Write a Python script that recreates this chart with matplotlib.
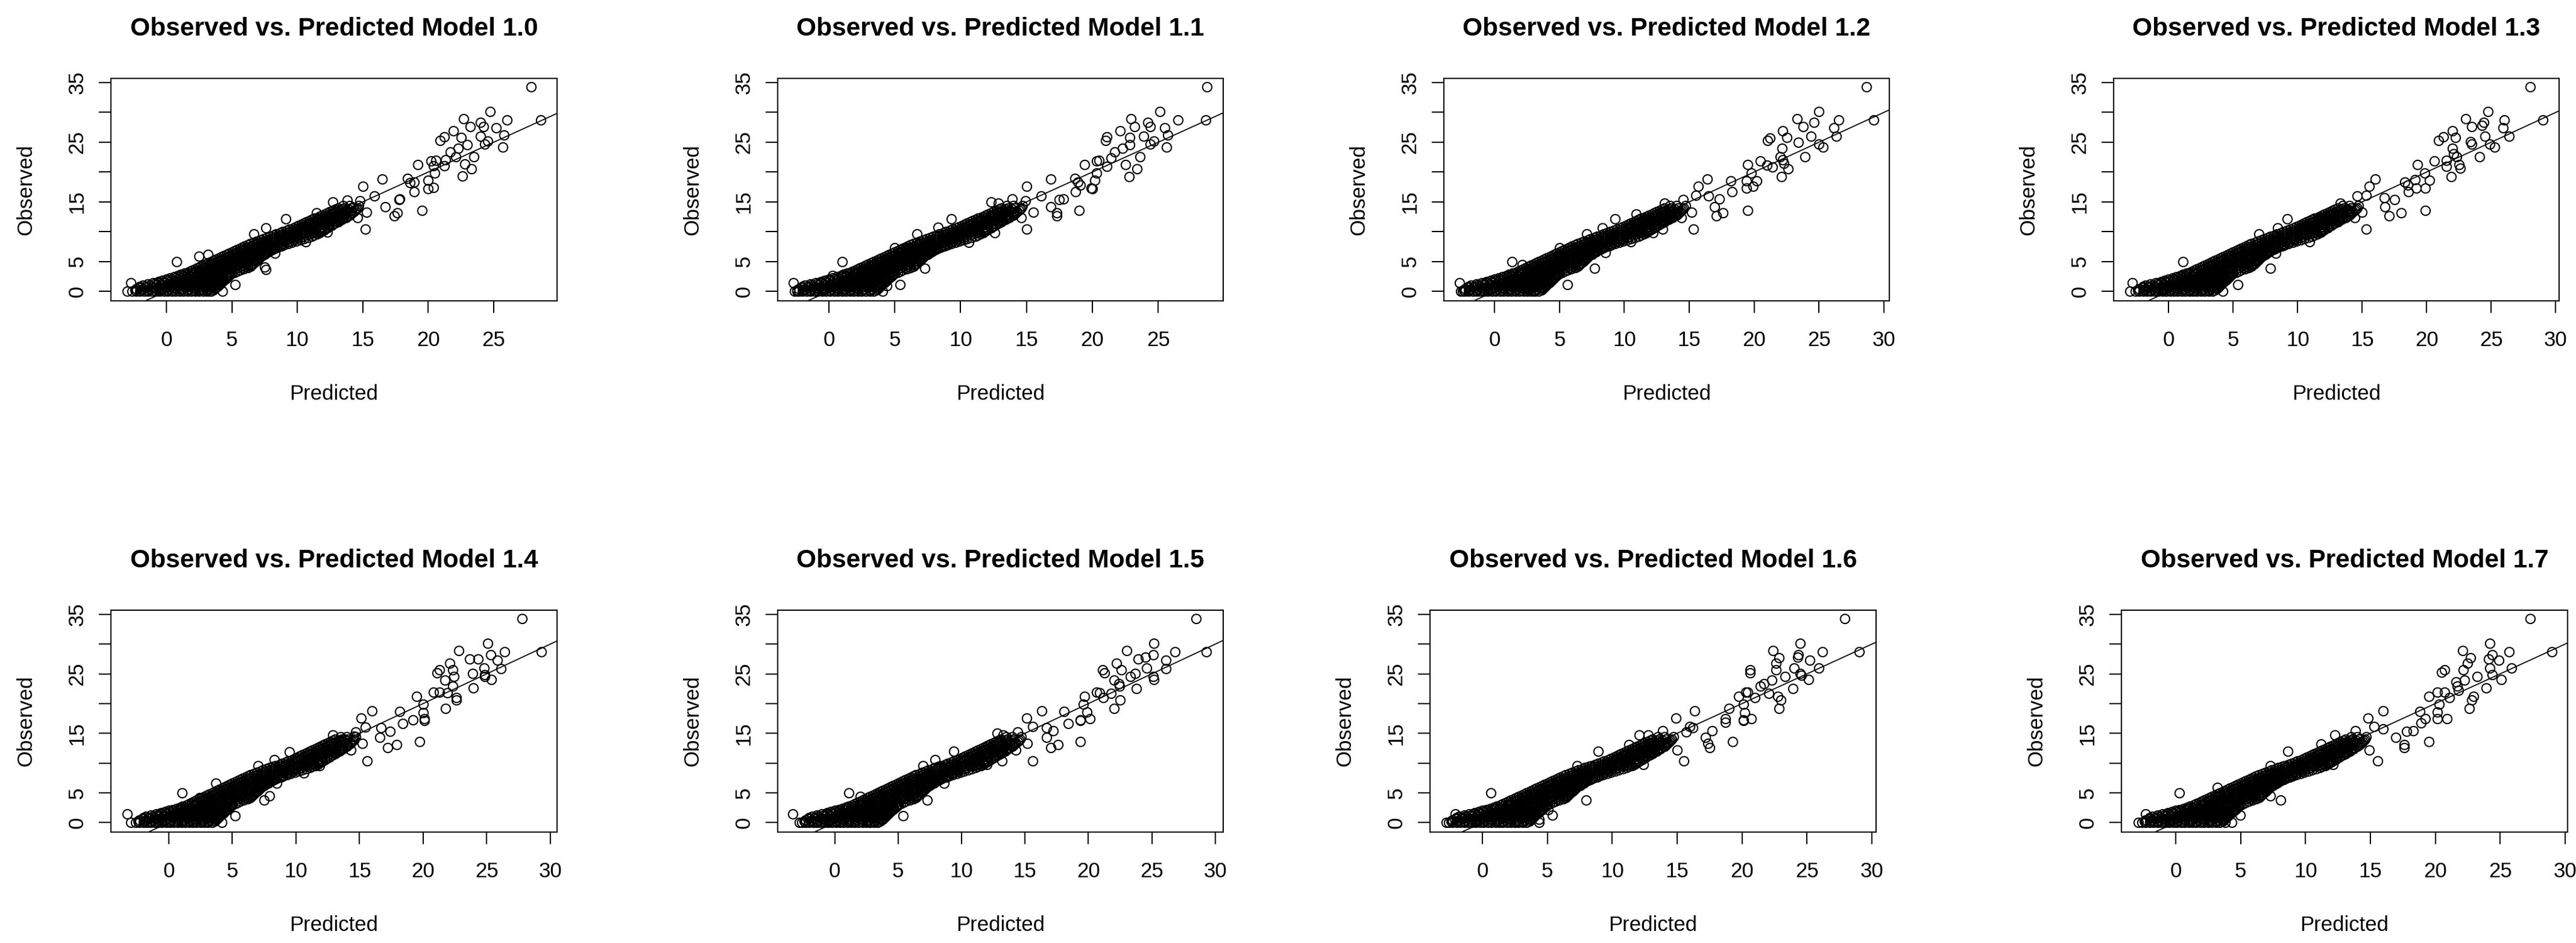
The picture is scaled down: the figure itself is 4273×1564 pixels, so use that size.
import matplotlib
matplotlib.use("Agg")
import matplotlib.pyplot as plt

plt.rcParams['font.family'] = ['Liberation Sans', 'DejaVu Sans']

W, H, DPI = 4273, 1564, 100

# dense band shared by all models: (observed level, predicted values)
band_rows = [
    (0.0, [-2.6, -2.3, -2.0, -1.7, -1.4, -1.1, -0.8, -0.5, -0.2, 0.1, 0.4, 0.7, 1.0, 1.3, 1.6, 1.9, 2.2, 2.5, 2.8, 3.1, 3.4]),
    (0.2, [-2.4, -1.9, -1.4, -0.9, -0.4, 0.1, 0.6, 1.1, 1.6, 2.1, 2.6, 3.1, 3.6]),
    (0.4, [-2.3, -1.8, -1.3, -0.8, -0.3, 0.2, 0.7, 1.2, 1.7, 2.2, 2.7, 3.2, 3.7]),
    (0.6, [-2.0, -1.5, -1.0, -0.5, 0.0, 0.5, 1.0, 1.5, 2.0, 2.5, 3.0, 3.5, 3.8]),
    (0.8, [-2.0, -1.6, -1.1, -0.6, -0.1, 0.4, 0.9, 1.4, 1.9, 2.4, 2.9, 3.4, 3.9]),
    (1.0, [-1.8, -1.3, -0.8, -0.3, 0.2, 0.7, 1.2, 1.7, 2.2, 2.7, 3.2, 3.7, 4.0]),
    (1.2, [-1.4, -0.9, -0.4, 0.1, 0.6, 1.1, 1.6, 2.1, 2.6, 3.1, 3.6, 4.1]),
    (1.4, [-1.0, -0.6, -0.1, 0.4, 0.9, 1.4, 1.9, 2.4, 2.9, 3.4, 3.9, 4.2]),
    (1.6, [-0.6, -0.2, 0.3, 0.8, 1.3, 1.8, 2.3, 2.8, 3.3, 3.8, 4.3]),
    (1.8, [-0.3, 0.1, 0.6, 1.1, 1.6, 2.1, 2.6, 3.1, 3.6, 4.1, 4.4]),
    (2.0, [0.0, 0.4, 0.9, 1.4, 1.9, 2.4, 2.9, 3.4, 3.9, 4.5]),
    (2.2, [0.3, 0.7, 1.2, 1.7, 2.2, 2.7, 3.2, 3.7, 4.2, 4.6]),
    (2.4, [0.6, 1.0, 1.5, 2.0, 2.5, 3.0, 3.5, 4.0, 4.7]),
    (2.6, [0.9, 1.3, 1.8, 2.3, 2.8, 3.3, 3.8, 4.3, 4.8]),
    (2.8, [1.1, 1.6, 2.1, 2.6, 3.1, 3.6, 4.1, 4.6, 4.9]),
    (3.0, [1.4, 1.9, 2.4, 2.9, 3.4, 3.9, 4.4, 5.0]),
    (3.2, [1.6, 2.1, 2.6, 3.1, 3.6, 4.1, 4.6, 5.2]),
    (3.4, [1.8, 2.3, 2.8, 3.3, 3.8, 4.3, 4.8, 5.4]),
    (3.6, [2.0, 2.5, 3.0, 3.5, 4.0, 4.5, 5.0, 5.6]),
    (3.8, [2.2, 2.7, 3.2, 3.7, 4.2, 4.7, 5.2, 5.9]),
    (4.0, [2.4, 2.9, 3.4, 3.9, 4.4, 4.9, 5.4, 5.8, 6.2]),
    (4.2, [2.6, 3.1, 3.6, 4.1, 4.6, 5.1, 5.6, 6.0, 6.4]),
    (4.4, [2.8, 3.3, 3.8, 4.3, 4.8, 5.3, 5.8, 6.2, 6.5]),
    (4.6, [3.0, 3.5, 4.0, 4.5, 5.0, 5.5, 6.0, 6.6]),
    (4.8, [3.2, 3.7, 4.2, 4.7, 5.2, 5.7, 6.2, 6.7]),
    (5.0, [3.4, 3.9, 4.4, 4.9, 5.4, 5.9, 6.4, 6.8]),
    (5.2, [3.6, 4.1, 4.6, 5.1, 5.6, 6.1, 6.6, 6.9]),
    (5.4, [3.8, 4.3, 4.8, 5.3, 5.8, 6.3, 6.8, 7.0]),
    (5.6, [4.0, 4.5, 5.0, 5.5, 6.0, 6.5, 7.1]),
    (5.8, [4.2, 4.7, 5.2, 5.7, 6.2, 6.7, 7.2]),
    (6.0, [4.4, 4.9, 5.4, 5.9, 6.4, 6.9, 7.3]),
    (6.2, [4.6, 5.1, 5.6, 6.1, 6.6, 7.1, 7.5]),
    (6.4, [4.8, 5.3, 5.8, 6.3, 6.8, 7.3, 7.6]),
    (6.6, [5.0, 5.5, 6.0, 6.5, 7.0, 7.5, 7.8]),
    (6.8, [5.2, 5.7, 6.2, 6.7, 7.2, 7.7, 7.9]),
    (7.0, [5.4, 5.9, 6.4, 6.9, 7.4, 7.9, 8.1]),
    (7.2, [5.6, 6.1, 6.6, 7.1, 7.6, 8.1, 8.3]),
    (7.4, [5.8, 6.3, 6.8, 7.3, 7.8, 8.3, 8.5]),
    (7.6, [6.0, 6.5, 7.0, 7.5, 8.0, 8.5, 8.8]),
    (7.8, [6.2, 6.7, 7.2, 7.7, 8.2, 8.7, 9.0]),
    (8.0, [6.4, 6.9, 7.4, 7.9, 8.4, 8.9, 9.3]),
    (8.2, [6.7, 7.2, 7.7, 8.2, 8.7, 9.2, 9.6]),
    (8.4, [6.9, 7.4, 7.9, 8.4, 8.9, 9.4, 9.9]),
    (8.6, [7.2, 7.7, 8.2, 8.7, 9.2, 9.7, 10.2]),
    (8.8, [7.4, 7.9, 8.4, 8.9, 9.4, 9.9, 10.5]),
    (9.0, [7.7, 8.2, 8.7, 9.2, 9.7, 10.2, 10.8]),
    (9.2, [7.9, 8.4, 8.9, 9.4, 9.9, 10.4, 11.1]),
    (9.4, [8.2, 8.7, 9.2, 9.7, 10.2, 10.7, 11.3]),
    (9.6, [8.4, 8.9, 9.4, 9.9, 10.4, 10.9, 11.5]),
    (9.8, [8.7, 9.2, 9.7, 10.2, 10.7, 11.2, 11.7]),
    (10.0, [8.9, 9.4, 9.9, 10.4, 10.9, 11.4, 11.8]),
    (10.2, [9.2, 9.7, 10.2, 10.7, 11.2, 11.7, 12.0]),
    (10.4, [9.4, 9.9, 10.4, 10.9, 11.4, 11.9, 12.1]),
    (10.6, [9.7, 10.2, 10.7, 11.2, 11.7, 12.3]),
    (10.8, [9.9, 10.4, 10.9, 11.4, 11.9, 12.4]),
    (11.0, [10.1, 10.6, 11.1, 11.6, 12.1, 12.6]),
    (11.2, [10.3, 10.8, 11.3, 11.8, 12.3, 12.7]),
    (11.4, [10.5, 11.0, 11.5, 12.0, 12.5, 12.9]),
    (11.6, [10.7, 11.2, 11.7, 12.2, 12.7, 13.1]),
    (11.8, [10.9, 11.4, 11.9, 12.4, 12.9, 13.2]),
    (12.0, [11.1, 11.6, 12.1, 12.6, 13.1, 13.4]),
    (12.2, [11.3, 11.8, 12.3, 12.8, 13.3, 13.5]),
    (12.4, [11.5, 12.0, 12.5, 13.0, 13.5, 13.7]),
    (12.6, [11.7, 12.2, 12.7, 13.2, 13.7]),
    (12.8, [11.9, 12.4, 12.9, 13.4, 14.0]),
    (13.0, [12.1, 12.6, 13.1, 13.6, 14.1]),
    (13.2, [12.3, 12.8, 13.3, 13.8, 14.2]),
    (13.4, [12.5, 13.0, 13.5, 14.0, 14.3]),
    (13.6, [12.7, 13.2, 13.7, 14.4]),
    (13.8, [12.9, 13.4, 13.9, 14.5]),
    (14.0, [13.1, 13.6, 14.1, 14.6]),
    (14.4, [13.5, 14.0, 14.7]),
]

# scattered points per model: (predicted, observed)
pts_10 = [(27.86, 34.3), (28.6, 28.75), (24.7, 30.1), (22.7, 28.9), (24.0, 28.3), (26.0, 28.75), (23.2, 27.6),
          (24.2, 27.6), (25.2, 27.4), (21.9, 26.9), (21.2, 25.9), (20.9, 25.3), (22.5, 25.8), (24.0, 26.0),
          (25.8, 26.2), (22.96, 24.6), (22.3, 24.0), (24.55, 25.2), (25.7, 24.2), (24.3, 24.65), (21.7, 23.4),
          (23.5, 22.6), (22.1, 22.6), (21.3, 22.1), (20.6, 22.0), (20.2, 21.9), (19.2, 21.2), (22.8, 21.3),
          (20.4, 21.0), (21.2, 21.0), (23.3, 20.5), (20.5, 19.85), (22.6, 19.3), (18.4, 18.9), (18.9, 18.35),
          (18.6, 18.25), (20.0, 18.6), (20.4, 17.4), (20.0, 17.25), (18.9, 16.7), (16.5, 18.8), (15.0, 17.6),
          (15.9, 16.0), (16.7, 14.2), (17.8, 15.5), (17.75, 15.4), (17.65, 13.2), (17.4, 12.7), (19.5, 13.6),
          (15.3, 13.3), (14.6, 12.3), (15.2, 10.4), (14.8, 15.2), (13.8, 15.3), (14.25, 14.1), (12.7, 15.0),
          (12.3, 9.95), (11.45, 13.2), (10.65, 8.3), (9.1, 12.1), (7.6, 10.6), (6.7, 9.6), (7.5, 4.1),
          (7.6, 3.7), (5.25, 1.1), (0.8, 5.0), (-2.7, 1.46), (-3.0, 0.0), (8.3, 6.4), (2.5, 5.9), (3.2, 6.2),
          (4.3, 0.0), (3.3, 0.0)]
pts_11 = [(28.7, 34.3), (28.6, 28.75), (25.1, 30.1), (22.9, 28.9), (24.2, 28.3), (26.5, 28.75), (23.2, 27.6),
          (24.4, 27.6), (25.5, 27.4), (22.1, 26.9), (21.1, 25.9), (21.0, 25.3), (22.85, 25.8), (23.9, 26.0),
          (25.7, 26.2), (22.85, 24.6), (22.3, 24.0), (24.65, 25.2), (25.6, 24.2), (24.4, 24.65), (21.7, 23.4),
          (23.6, 22.6), (21.4, 22.4), (20.3, 21.9), (20.5, 22.0), (19.4, 21.2), (22.5, 21.2), (21.1, 20.9),
          (23.4, 20.5), (20.3, 19.85), (22.8, 19.2), (18.65, 18.9), (18.9, 18.35), (19.1, 17.8), (20.2, 18.6),
          (19.9, 17.35), (20.0, 17.2), (18.7, 16.7), (16.85, 18.8), (15.0, 17.6), (16.1, 16.0), (16.85, 14.2),
          (17.8, 15.5), (17.5, 15.4), (17.3, 13.2), (17.3, 12.7), (19.0, 13.6), (15.5, 13.3), (14.6, 12.3),
          (15.0, 10.4), (14.9, 15.2), (13.9, 15.5), (12.85, 14.8), (12.3, 15.0), (12.6, 9.8), (10.6, 8.2),
          (9.3, 12.1), (8.3, 10.7), (6.7, 9.6), (7.3, 3.9), (5.4, 1.1), (1.0, 5.0), (-2.7, 1.46), (-2.4, 0.0),
          (4.1, 0.0), (4.4, 0.9), (0.3, 2.6), (5.0, 7.3), (5.8, 7.3)]
pts_12 = [(28.65, 34.3), (29.2, 28.75), (25.0, 30.1), (23.3, 28.9), (23.8, 27.6), (24.6, 28.3), (26.5, 28.75),
          (26.15, 27.4), (22.2, 26.9), (22.5, 25.8), (21.2, 25.7), (21.05, 25.3), (24.4, 26.0), (26.35, 26.0),
          (23.4, 25.0), (25.0, 24.65), (25.3, 24.2), (22.15, 24.0), (22.0, 22.6), (23.9, 22.6), (22.2, 22.1),
          (20.5, 21.9), (19.5, 21.2), (21.0, 21.1), (21.4, 20.8), (22.3, 21.45), (22.6, 20.5), (19.8, 19.85),
          (22.1, 19.2), (18.2, 18.5), (19.4, 18.5), (20.2, 18.5), (18.3, 16.7), (19.4, 17.35), (19.9, 17.6),
          (16.4, 18.8), (15.7, 17.6), (15.5, 16.1), (16.5, 16.0), (17.3, 15.5), (16.95, 14.2), (17.1, 12.7),
          (17.6, 13.2), (19.5, 13.6), (15.2, 13.3), (14.4, 12.3), (15.3, 10.4), (14.55, 15.4), (13.1, 14.8),
          (13.6, 12.8), (12.95, 10.4), (12.2, 9.8), (10.9, 13.0), (9.3, 12.1), (8.3, 10.6), (7.1, 9.6),
          (7.7, 3.9), (8.55, 6.5), (5.6, 1.1), (1.35, 5.0), (-2.7, 1.46), (-2.45, 0.0), (3.0, 0.0), (5.0, 7.3),
          (2.15, 4.5), (10.5, 8.3)]
pts_13 = [(28.0, 34.3), (29.0, 28.75), (24.75, 30.1), (23.0, 28.9), (24.4, 28.3), (26.0, 28.75), (23.5, 27.6),
          (24.3, 27.8), (25.9, 27.4), (22.0, 26.9), (21.3, 25.9), (20.9, 25.3), (22.2, 25.8), (24.5, 26.0),
          (26.4, 26.0), (23.4, 25.1), (23.5, 24.65), (24.9, 24.7), (25.25, 24.2), (22.0, 24.0), (22.1, 23.05),
          (24.1, 22.6), (22.3, 22.6), (21.5, 22.0), (20.6, 21.9), (19.3, 21.2), (22.5, 21.2), (21.5, 20.9),
          (22.6, 20.6), (19.85, 19.85), (21.9, 19.2), (18.3, 18.35), (18.55, 17.8), (19.1, 18.7), (20.2, 18.6),
          (19.9, 17.35), (19.2, 17.35), (18.6, 16.7), (16.0, 18.8), (15.55, 17.6), (15.3, 16.1), (16.7, 15.7),
          (17.5, 15.4), (16.75, 14.2), (17.1, 12.7), (18.0, 13.2), (19.9, 13.6), (15.0, 13.3), (14.4, 12.3),
          (15.3, 10.4), (14.6, 16.0), (13.3, 14.8), (13.8, 13.7), (11.9, 12.3), (11.8, 9.95), (10.9, 8.3),
          (9.2, 12.1), (8.45, 10.6), (7.0, 9.6), (7.9, 3.9), (5.35, 1.1), (1.1, 5.0), (-2.8, 1.46), (-3.0, 0.0),
          (4.2, 0.0), (8.3, 6.4)]
pts_14 = [(27.8, 34.3), (29.3, 28.7), (25.1, 30.1), (22.8, 28.9), (23.65, 27.5), (24.3, 27.5), (25.3, 28.2),
          (26.4, 28.7), (25.85, 27.3), (22.1, 26.8), (21.3, 25.7), (21.1, 25.2), (22.35, 25.7), (24.8, 26.0),
          (26.1, 25.9), (22.4, 24.5), (21.7, 23.9), (23.9, 25.1), (25.35, 24.0), (24.85, 24.5), (24.85, 24.9),
          (23.95, 22.6), (22.35, 22.9), (20.8, 21.9), (21.3, 21.9), (19.5, 21.25), (21.9, 21.8), (22.6, 21.0),
          (22.6, 20.55), (20.0, 19.85), (21.75, 19.15), (18.15, 18.7), (18.4, 16.6), (19.2, 17.3), (20.1, 17.5),
          (20.1, 17.15), (20.0, 18.45), (16.0, 18.8), (15.1, 17.6), (15.45, 16.0), (16.7, 15.9), (17.4, 15.3),
          (17.2, 12.6), (16.6, 14.3), (17.9, 13.1), (19.7, 13.6), (15.2, 13.3), (14.3, 12.2), (15.6, 10.4),
          (14.7, 15.2), (14.55, 14.5), (13.8, 14.0), (12.9, 14.7), (11.85, 9.6), (10.6, 8.3), (9.5, 11.9),
          (8.3, 10.6), (7.0, 9.5), (7.5, 3.8), (7.9, 4.5), (5.2, 1.1), (1.05, 4.95), (-3.25, 1.45), (-3.0, 0.0),
          (4.15, 0.0), (2.4, 4.2), (3.7, 6.6), (8.5, 6.6)]
pts_15 = [(28.5, 34.3), (29.3, 28.7), (25.15, 30.1), (23.0, 28.9), (23.9, 27.5), (24.5, 27.8), (25.1, 28.2),
          (26.8, 28.7), (26.1, 27.3), (22.2, 26.8), (21.1, 25.7), (21.25, 25.2), (22.6, 25.7), (24.6, 26.0),
          (26.1, 25.9), (23.3, 24.5), (22.0, 23.9), (23.7, 25.1), (25.15, 24.0), (25.1, 24.5), (22.4, 23.35),
          (23.8, 22.55), (22.45, 22.9), (20.65, 21.9), (20.9, 21.8), (19.7, 21.25), (21.8, 21.7), (21.15, 21.0),
          (22.5, 20.55), (19.6, 19.85), (22.0, 19.15), (18.1, 18.7), (18.4, 16.6), (19.35, 17.3), (19.9, 18.55),
          (20.1, 17.5), (19.35, 17.15), (16.3, 18.8), (15.15, 17.6), (15.6, 16.1), (16.7, 15.9), (17.2, 15.4),
          (17.05, 12.6), (16.7, 14.3), (17.6, 13.1), (19.35, 13.6), (15.2, 13.3), (14.3, 12.2), (15.6, 10.4),
          (14.4, 15.2), (13.3, 14.7), (12.8, 15.0), (13.2, 10.4), (12.0, 9.8), (9.4, 12.0), (7.9, 10.6),
          (6.95, 9.5), (7.3, 3.8), (8.6, 6.6), (5.4, 1.1), (1.1, 4.95), (-3.3, 1.45), (-2.8, 0.0), (3.8, 0.5),
          (2.8, 0.0), (2.0, 4.4)]
pts_16 = [(27.9, 34.3), (29.0, 28.7), (24.45, 30.1), (22.4, 28.9), (22.85, 27.7), (24.3, 27.8), (24.35, 28.2),
          (26.2, 28.7), (25.2, 27.3), (22.6, 26.8), (20.6, 25.7), (20.6, 25.2), (22.6, 25.7), (24.0, 26.0),
          (25.9, 26.0), (23.3, 24.5), (22.3, 23.9), (24.45, 25.1), (25.1, 24.0), (24.55, 24.75), (21.7, 23.35),
          (23.9, 22.55), (21.4, 22.9), (20.3, 21.9), (20.45, 21.9), (19.75, 21.25), (22.05, 21.7), (21.0, 21.0),
          (22.75, 21.25), (23.0, 20.55), (20.1, 19.85), (22.85, 19.15), (19.0, 19.15), (18.7, 17.5), (18.7, 16.8),
          (20.1, 17.3), (20.2, 18.45), (20.7, 17.5), (20.1, 17.15), (16.35, 18.8), (14.9, 17.6), (15.95, 16.1),
          (16.2, 15.9), (15.7, 15.2), (17.5, 12.6), (17.35, 13.3), (17.2, 14.3), (17.7, 15.4), (19.25, 13.6),
          (15.0, 12.2), (15.5, 10.4), (13.9, 15.4), (12.75, 14.7), (12.05, 14.7), (12.4, 9.8), (11.3, 13.1),
          (8.9, 12.0), (7.3, 9.5), (8.0, 3.8), (4.35, 0.05), (4.35, 0.5), (0.65, 4.95), (-2.1, 1.45), (-2.8, 0.0),
          (2.5, 0.0), (5.4, 1.2), (5.05, 2.15)]
pts_17 = [(27.3, 34.3), (29.0, 28.7), (24.2, 30.1), (22.1, 28.9), (22.7, 27.7), (24.1, 27.5), (24.4, 28.2),
          (25.7, 28.7), (24.9, 27.3), (22.5, 26.8), (20.5, 25.3), (20.7, 25.7), (22.15, 25.7), (24.2, 26.0),
          (25.85, 26.0), (23.2, 24.5), (22.25, 23.9), (24.4, 24.9), (25.1, 24.0), (23.9, 22.6), (21.6, 23.6),
          (21.7, 22.9), (20.15, 21.9), (20.7, 21.9), (19.5, 21.25), (21.8, 22.2), (21.1, 21.0), (22.95, 21.25),
          (22.8, 20.55), (20.3, 19.85), (22.6, 19.15), (18.8, 18.7), (19.25, 17.5), (18.9, 16.7), (20.15, 17.5),
          (20.9, 17.5), (20.15, 18.55), (16.0, 18.8), (14.8, 17.6), (15.3, 16.1), (16.0, 15.75), (16.95, 14.3),
          (17.6, 12.6), (17.6, 13.1), (17.8, 15.3), (18.3, 15.4), (19.5, 13.6), (14.9, 12.2), (15.55, 10.4),
          (13.85, 15.4), (12.25, 14.7), (12.1, 9.8), (11.2, 13.2), (8.65, 12.0), (7.3, 9.6), (8.1, 3.8),
          (7.3, 4.5), (4.3, 0.0), (3.8, 0.0), (0.3, 4.95), (-2.3, 1.45), (-2.9, 0.0), (3.2, 5.9), (4.95, 1.2)]

model_names = ["1.0", "1.1", "1.2", "1.3", "1.4", "1.5", "1.6", "1.7"]
model_pts = [pts_10, pts_11, pts_12, pts_13, pts_14, pts_15, pts_16, pts_17]
x_limits = [(-4.23, 29.83), (-3.88, 29.92), (-3.91, 30.42), (-4.27, 30.26),
            (-4.55, 30.53), (-4.49, 30.62), (-4.04, 30.32), (-4.18, 30.19)]
y_limits = (-1.6, 35.7)
x_ticks = [0, 5, 10, 15, 20, 25, 30]
y_ticks = [0, 5, 10, 15, 20, 25, 30, 35]
y_tick_labels = ["0", "5", "", "15", "", "25", "", "35"]

# plot boxes in pixels: left, top, right, bottom
boxes = [(184, 130, 924, 499), (1290, 130, 2029, 499), (2395, 130, 3134, 499), (3506, 130, 4245, 499),
         (184, 1012, 924, 1380), (1290, 1012, 2029, 1380), (2372, 1012, 3112, 1380), (3519, 1012, 4259, 1380)]

band_x = []
band_y = []
for level, preds in band_rows:
    for p in preds:
        band_x.append(p)
        band_y.append(level)

fig = plt.figure(figsize=(W / DPI, H / DPI), dpi=DPI)

for name, pts, xl, box in zip(model_names, model_pts, x_limits, boxes):
    l, t, r, b = box
    aw, ah = r - l, b - t
    ax = fig.add_axes([l / W, 1 - b / H, aw / W, ah / H])
    xs = band_x + [p for p, o in pts]
    ys = band_y + [o for p, o in pts]
    ax.plot(xs, ys, linestyle='none', marker='o', ms=11.0, mfc='none', mec='black', mew=1.5)
    ax.axline((0, 0), slope=1, color='black', lw=1.3)
    ax.set_xticks(x_ticks)
    ax.set_yticks(y_ticks)
    ax.set_yticklabels(y_tick_labels)
    # limits after ticks, otherwise set_xticks widens the view to 30
    ax.set_xlim(xl)
    ax.set_ylim(y_limits)
    ax.tick_params(axis='both', direction='out', length=14.4, width=1.5, labelsize=25, colors='black')
    ax.tick_params(axis='x', pad=21)
    ax.tick_params(axis='y', pad=14, labelrotation=90)
    for lab in ax.get_yticklabels():
        lab.set_va('center')
    for sp in ax.spines.values():
        sp.set_linewidth(1.5)
        sp.set_color('black')

    ax.text(0.5, 1 + 71 / ah, "Observed vs. Predicted Model " + name, transform=ax.transAxes,
            ha='center', va='baseline', fontsize=30.5, fontweight='bold')
    ax.text(0.5, -164 / ah, "Predicted", transform=ax.transAxes,
            ha='center', va='baseline', fontsize=25)
    ax.text(-132 / aw, 0.5, "Observed", transform=ax.transAxes, rotation=90,
            rotation_mode='anchor', ha='center', va='baseline', fontsize=25)

fig.savefig("out.png", dpi=DPI)
